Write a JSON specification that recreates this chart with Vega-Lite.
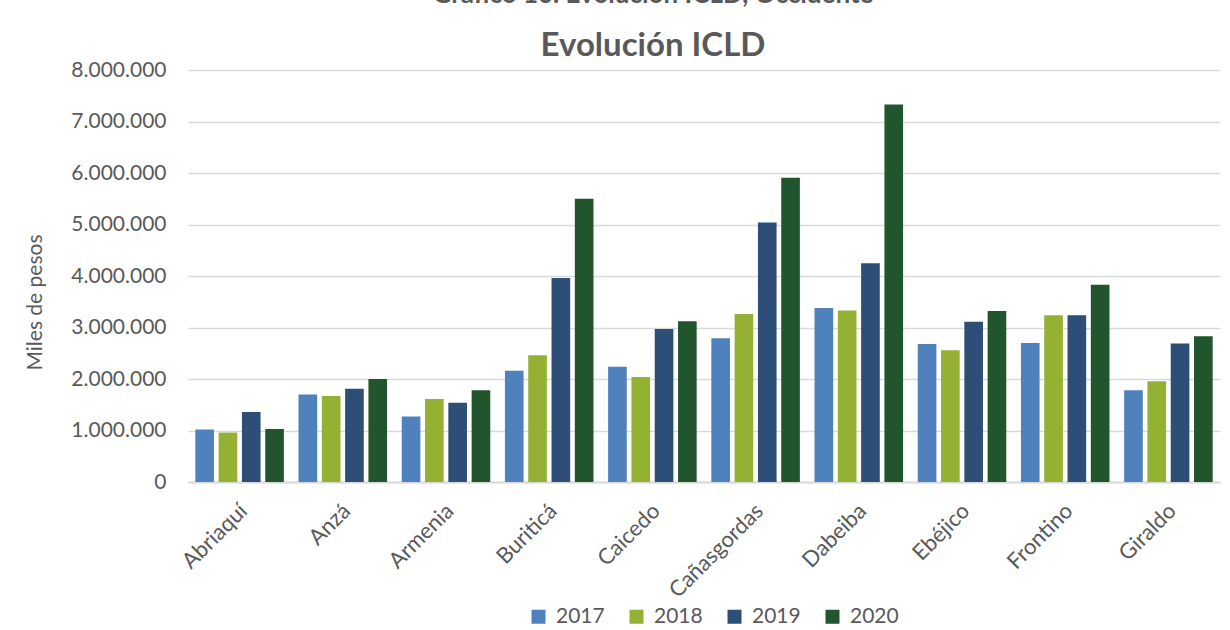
{
  "$schema": "https://vega.github.io/schema/vega-lite/v6.json",
  "width": 1032,
  "height": 412,
  "autosize": "none",
  "padding": {"left": 188, "top": 70, "right": 10, "bottom": 148},
  "background": "white",
  "title": {
    "text": "Gráfico 10. Evolución ICLD, Occidente",
    "subtitle": "Evolución ICLD",
    "anchor": "middle",
    "frame": "group",
    "font": "Lato",
    "fontSize": 26,
    "fontWeight": "bold",
    "color": "#595959",
    "subtitleFont": "Lato",
    "subtitleFontSize": 33,
    "subtitleFontWeight": "bold",
    "subtitleColor": "#595959",
    "subtitlePadding": 22,
    "dx": -51,
    "offset": -4
  },
  "data": {
    "values": [
      {"municipio": "Abriaquí", "anio": "2017", "valor": 1020000},
      {"municipio": "Abriaquí", "anio": "2018", "valor": 960000},
      {"municipio": "Abriaquí", "anio": "2019", "valor": 1360000},
      {"municipio": "Abriaquí", "anio": "2020", "valor": 1030000},
      {"municipio": "Anzá", "anio": "2017", "valor": 1700000},
      {"municipio": "Anzá", "anio": "2018", "valor": 1670000},
      {"municipio": "Anzá", "anio": "2019", "valor": 1810000},
      {"municipio": "Anzá", "anio": "2020", "valor": 2000000},
      {"municipio": "Armenia", "anio": "2017", "valor": 1270000},
      {"municipio": "Armenia", "anio": "2018", "valor": 1610000},
      {"municipio": "Armenia", "anio": "2019", "valor": 1540000},
      {"municipio": "Armenia", "anio": "2020", "valor": 1780000},
      {"municipio": "Buriticá", "anio": "2017", "valor": 2160000},
      {"municipio": "Buriticá", "anio": "2018", "valor": 2460000},
      {"municipio": "Buriticá", "anio": "2019", "valor": 3960000},
      {"municipio": "Buriticá", "anio": "2020", "valor": 5500000},
      {"municipio": "Caicedo", "anio": "2017", "valor": 2240000},
      {"municipio": "Caicedo", "anio": "2018", "valor": 2040000},
      {"municipio": "Caicedo", "anio": "2019", "valor": 2970000},
      {"municipio": "Caicedo", "anio": "2020", "valor": 3120000},
      {"municipio": "Cañasgordas", "anio": "2017", "valor": 2790000},
      {"municipio": "Cañasgordas", "anio": "2018", "valor": 3260000},
      {"municipio": "Cañasgordas", "anio": "2019", "valor": 5040000},
      {"municipio": "Cañasgordas", "anio": "2020", "valor": 5910000},
      {"municipio": "Dabeiba", "anio": "2017", "valor": 3380000},
      {"municipio": "Dabeiba", "anio": "2018", "valor": 3330000},
      {"municipio": "Dabeiba", "anio": "2019", "valor": 4250000},
      {"municipio": "Dabeiba", "anio": "2020", "valor": 7330000},
      {"municipio": "Ebéjico", "anio": "2017", "valor": 2680000},
      {"municipio": "Ebéjico", "anio": "2018", "valor": 2560000},
      {"municipio": "Ebéjico", "anio": "2019", "valor": 3110000},
      {"municipio": "Ebéjico", "anio": "2020", "valor": 3320000},
      {"municipio": "Frontino", "anio": "2017", "valor": 2700000},
      {"municipio": "Frontino", "anio": "2018", "valor": 3240000},
      {"municipio": "Frontino", "anio": "2019", "valor": 3240000},
      {"municipio": "Frontino", "anio": "2020", "valor": 3830000},
      {"municipio": "Giraldo", "anio": "2017", "valor": 1780000},
      {"municipio": "Giraldo", "anio": "2018", "valor": 1955000},
      {"municipio": "Giraldo", "anio": "2019", "valor": 2690000},
      {"municipio": "Giraldo", "anio": "2020", "valor": 2830000}
    ]
  },
  "mark": {"type": "bar"},
  "encoding": {
    "x": {
      "field": "municipio",
      "type": "nominal",
      "sort": null,
      "title": null,
      "scale": {"paddingInner": 0.142, "paddingOuter": 0.071},
      "axis": {
        "labelAngle": -45,
        "labelAlign": "right",
        "labelBaseline": "middle",
        "labelFont": "Lato",
        "labelFontSize": 22,
        "labelColor": "#595959",
        "labelPadding": 25,
        "labelOffset": 4,
        "ticks": false,
        "grid": false,
        "domain": true,
        "domainColor": "#d9d9d9",
        "domainWidth": 2
      }
    },
    "xOffset": {
      "field": "anio",
      "type": "nominal",
      "scale": {"paddingInner": 0.2, "paddingOuter": 0}
    },
    "y": {
      "field": "valor",
      "type": "quantitative",
      "title": "Miles de pesos",
      "scale": {"domain": [0, 8000000], "nice": false},
      "axis": {
        "values": [0, 1000000, 2000000, 3000000, 4000000, 5000000, 6000000, 7000000, 8000000],
        "format": ",.0f",
        "grid": true,
        "gridColor": "#d9d9d9",
        "gridWidth": 1.5,
        "domain": false,
        "ticks": false,
        "labelFont": "Lato",
        "labelFontSize": 21,
        "labelColor": "#595959",
        "labelPadding": 22,
        "titleFont": "Lato",
        "titleFontSize": 21,
        "titleFontWeight": "normal",
        "titleColor": "#595959",
        "titleX": -143,
        "titleY": 232
      }
    },
    "color": {
      "field": "anio",
      "type": "nominal",
      "scale": {
        "domain": ["2017", "2018", "2019", "2020"],
        "range": ["#4f81bd", "#94b133", "#2c4e77", "#21552e"]
      },
      "legend": {
        "title": null,
        "orient": "none",
        "direction": "horizontal",
        "legendX": 340,
        "legendY": 536,
        "symbolType": "square",
        "symbolSize": 196,
        "symbolStrokeWidth": 0,
        "labelFont": "Lato",
        "labelFontSize": 21,
        "labelColor": "#595959",
        "labelOffset": 7,
        "columnPadding": 21,
        "padding": 0
      }
    }
  },
  "config": {
    "locale": {
      "number": {"decimal": ",", "thousands": ".", "grouping": [3], "currency": ["$", ""]}
    },
    "view": {"stroke": null}
  }
}
